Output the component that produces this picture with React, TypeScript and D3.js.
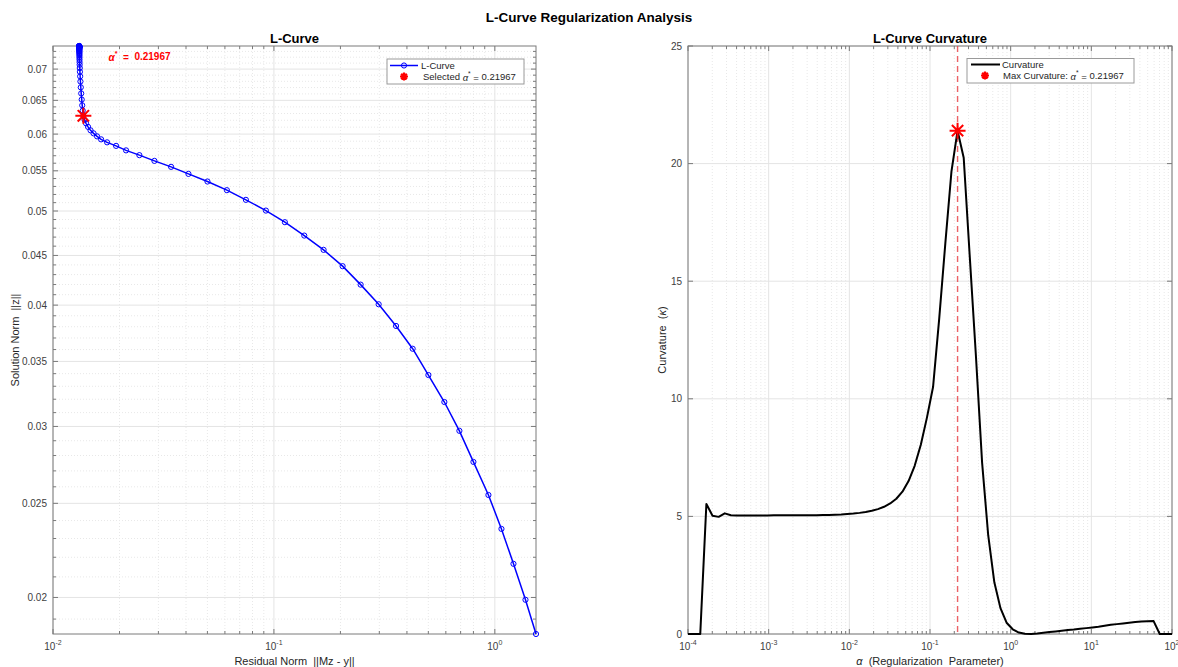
import React from 'react';
import * as d3 from 'd3';

// alpha grid (logspace(-4, 2, 80))
const ALPHA = [
  1.000e-4, 1.191e-4, 1.419e-4, 1.690e-4, 2.013e-4, 2.398e-4, 2.856e-4, 3.402e-4, 4.052e-4, 4.827e-4,
  5.750e-4, 6.849e-4, 8.158e-4, 9.713e-4, 1.157e-3, 1.378e-3, 1.641e-3, 1.955e-3, 2.329e-3, 2.774e-3,
  3.304e-3, 3.936e-3, 4.688e-3, 5.584e-3, 6.651e-3, 7.922e-3, 9.434e-3, 1.124e-2, 1.339e-2, 1.594e-2,
  1.899e-2, 2.262e-2, 2.694e-2, 3.209e-2, 3.822e-2, 4.553e-2, 5.423e-2, 6.459e-2, 7.694e-2, 9.163e-2,
  0.1091, 0.1300, 0.1548, 0.1844, 0.21967, 0.2617, 0.3117, 0.3713, 0.4422, 0.5267,
  0.6274, 0.7472, 0.8900, 1.060, 1.263, 1.504, 1.791, 2.134, 2.541, 3.027,
  3.606, 4.295, 5.115, 6.093, 7.257, 8.644, 10.30, 12.26, 14.61, 17.40,
  20.72, 24.69, 29.40, 35.02, 41.71, 49.68, 59.17, 70.48, 83.95, 100.0,
];

// ||Mz - y|| for each alpha
const RESIDUAL_NORM = [
  0.013146, 0.013146, 0.013147, 0.013147, 0.013148, 0.013148, 0.013149, 0.013149, 0.013150, 0.013150,
  0.013151, 0.013151, 0.013152, 0.013152, 0.013153, 0.013153, 0.013154, 0.013155, 0.013156, 0.013157,
  0.013158, 0.013159, 0.013160, 0.013161, 0.013162, 0.013163, 0.013164, 0.013166, 0.013168, 0.013170,
  0.013172, 0.013175, 0.01318, 0.01319, 0.01320, 0.01322, 0.01324, 0.01327, 0.01331, 0.01336,
  0.01342, 0.01349, 0.01356, 0.01363, 0.01372, 0.01389, 0.01411, 0.01441, 0.01479, 0.01526,
  0.01583, 0.01651, 0.01757, 0.01930, 0.02141, 0.02460, 0.02878, 0.03424, 0.04103, 0.05003,
  0.06124, 0.07467, 0.09198, 0.1121, 0.1372, 0.1678, 0.2046, 0.2469, 0.2979, 0.3571,
  0.4246, 0.5003, 0.5909, 0.6911, 0.7999, 0.9354, 1.0714, 1.2143, 1.3763, 1.5357,
];

// ||z|| for each alpha
const SOLUTION_NORM = [
  0.07394, 0.07393, 0.07392, 0.07391, 0.07390, 0.07389, 0.07388, 0.07387, 0.07386, 0.07385,
  0.07383, 0.07381, 0.07379, 0.07378, 0.07376, 0.07374, 0.07372, 0.07370, 0.07367, 0.07364,
  0.07360, 0.07355, 0.07348, 0.07339, 0.07329, 0.07317, 0.07303, 0.07289, 0.07272, 0.07250,
  0.07224, 0.07194, 0.07158, 0.07117, 0.07072, 0.07018, 0.06955, 0.06881, 0.06797, 0.06704,
  0.06608, 0.06512, 0.06424, 0.06344, 0.06266, 0.06207, 0.06155, 0.06104, 0.06054, 0.06011,
  0.05968, 0.05926, 0.05884, 0.05835, 0.05773, 0.05708, 0.05631, 0.05552, 0.05460, 0.05362,
  0.05253, 0.05134, 0.05005, 0.04869, 0.04717, 0.04560, 0.04387, 0.04199, 0.04008, 0.03807,
  0.03607, 0.03389, 0.03179, 0.02969, 0.02758, 0.02550, 0.02353, 0.02166, 0.01989, 0.01834,
];

// curvature kappa for each alpha
const CURVATURE = [
  0, 0, 0, 5.53, 5.03, 4.98, 5.13, 5.05, 5.04, 5.04,
  5.04, 5.04, 5.04, 5.04, 5.05, 5.05, 5.05, 5.05, 5.05, 5.05,
  5.05, 5.05, 5.06, 5.06, 5.07, 5.08, 5.10, 5.12, 5.15, 5.19,
  5.24, 5.31, 5.41, 5.55, 5.75, 6.05, 6.5, 7.15, 8.05, 9.2,
  10.5, 13.4, 16.6, 19.66, 21.4, 20.25, 16.0, 11.8, 7.3, 4.2,
  2.2, 1.1, 0.48, 0.2, 0.06, 0.01, 0.0, 0.02, 0.05, 0.08,
  0.11, 0.14, 0.17, 0.19, 0.22, 0.25, 0.28, 0.31, 0.35, 0.39,
  0.42, 0.45, 0.48, 0.51, 0.53, 0.54, 0.55, 0, 0, 0,
];

const SELECTED = 44;
const ALPHA_STAR_LABEL = '0.21967';

const LC_X_TICKS = [0.01, 0.1, 1];
const LC_Y_TICKS = [0.02, 0.025, 0.03, 0.035, 0.04, 0.045, 0.05, 0.055, 0.06, 0.065, 0.07];
const K_X_TICKS = [1e-4, 1e-3, 1e-2, 1e-1, 1, 10, 100];
const K_Y_TICKS = [0, 5, 10, 15, 20, 25];

const FONT = '"Liberation Sans", Arial, Helvetica, sans-serif';
const TEXT = '#262626';
const TICK_TEXT = '#404040';
const AXIS = '#7a7a7a';
const GRID = '#e4e4e4';
const GRID_MINOR = '#e8e8e8';

const LEFT = { x0: 53, x1: 536, y0: 46, y1: 634 };
const RIGHT = { x0: 688, x1: 1172, y0: 46, y1: 634 };

const logMinor = (majors: number[], lo: number, hi: number) =>
  majors.flatMap(m => d3.range(2, 10).map(k => m * k)).filter(v => v > lo && v < hi);

const starPath = (r: number) => {
  const d = r * 0.7071;
  return `M${-r},0H${r}M0,${-r}V${r}M${-d},${-d}L${d},${d}M${-d},${d}L${d},${-d}`;
};

const Pow10 = ({ x, y, v }: { x: number; y: number; v: number }) => (
  <text x={x} y={y} textAnchor="middle" fontSize={10} fill={TICK_TEXT}>
    10<tspan dy={-5} fontSize={7}>{Math.round(Math.log10(v))}</tspan>
  </text>
);

type FrameProps = {
  box: { x0: number; x1: number; y0: number; y1: number };
  x: (v: number) => number;
  y: (v: number) => number;
  xMajor: number[];
  xMinor: number[];
  yMajor: number[];
  yMinor: number[];
  yFmt: (v: number) => string;
};

const Frame = ({ box, x, y, xMajor, xMinor, yMajor, yMinor, yFmt }: FrameProps) => {
  const { x0, x1, y0, y1 } = box;
  return (
    <g>
      {/* grid */}
      {xMinor.map(v => (
        <line key={'gxm' + v} x1={x(v)} x2={x(v)} y1={y0} y2={y1} stroke={GRID_MINOR} strokeDasharray="1 2" />
      ))}
      {yMinor.map(v => (
        <line key={'gym' + v} x1={x0} x2={x1} y1={y(v)} y2={y(v)} stroke={GRID_MINOR} strokeDasharray="1 2" />
      ))}
      {xMajor.map(v => (
        <line key={'gx' + v} x1={x(v)} x2={x(v)} y1={y0} y2={y1} stroke={GRID} />
      ))}
      {yMajor.map(v => (
        <line key={'gy' + v} x1={x0} x2={x1} y1={y(v)} y2={y(v)} stroke={GRID} />
      ))}
      {/* ticks, mirrored on all four sides */}
      {xMinor.map(v => (
        <g key={'txm' + v} stroke={AXIS}>
          <line x1={x(v)} x2={x(v)} y1={y1} y2={y1 - 3} />
          <line x1={x(v)} x2={x(v)} y1={y0} y2={y0 + 3} />
        </g>
      ))}
      {xMajor.map(v => (
        <g key={'tx' + v} stroke={AXIS}>
          <line x1={x(v)} x2={x(v)} y1={y1} y2={y1 - 5} />
          <line x1={x(v)} x2={x(v)} y1={y0} y2={y0 + 5} />
        </g>
      ))}
      {yMinor.map(v => (
        <g key={'tym' + v} stroke={AXIS}>
          <line x1={x0} x2={x0 + 3} y1={y(v)} y2={y(v)} />
          <line x1={x1} x2={x1 - 3} y1={y(v)} y2={y(v)} />
        </g>
      ))}
      {yMajor.map(v => (
        <g key={'ty' + v} stroke={AXIS}>
          <line x1={x0} x2={x0 + 5} y1={y(v)} y2={y(v)} />
          <line x1={x1} x2={x1 - 5} y1={y(v)} y2={y(v)} />
        </g>
      ))}
      <rect x={x0} y={y0} width={x1 - x0} height={y1 - y0} fill="none" stroke={AXIS} />
      {/* tick labels */}
      {xMajor.map(v => (
        <Pow10 key={'lx' + v} x={x(v)} y={y1 + 16} v={v} />
      ))}
      {yMajor.map(v => (
        <text key={'ly' + v} x={x0 - 6} y={y(v)} dominantBaseline="central" textAnchor="end" fontSize={10} fill={TICK_TEXT}>
          {yFmt(v)}
        </text>
      ))}
    </g>
  );
};

const AlphaStar = ({ size = 9.5 }: { size?: number }) => (
  <>
    <tspan fontStyle="italic">α</tspan>
    <tspan dy={-4} fontSize={size * 0.7}>*</tspan>
    <tspan dy={4}>{'  =  '}</tspan>
  </>
);

const App = () => {
  const xL = d3.scaleLog().domain([0.01, d3.max(RESIDUAL_NORM) as number]).range([LEFT.x0, LEFT.x1]);
  const yL = d3
    .scaleLog()
    .domain([d3.min(SOLUTION_NORM) as number, d3.max(SOLUTION_NORM) as number])
    .range([LEFT.y1, LEFT.y0]);
  const xR = d3.scaleLog().domain([1e-4, 1e2]).range([RIGHT.x0, RIGHT.x1]);
  const yR = d3.scaleLinear().domain([0, 25]).range([RIGHT.y1, RIGHT.y0]);

  const lcPts: [number, number][] = RESIDUAL_NORM.map((r, i) => [r, SOLUTION_NORM[i]]);
  const kPts: [number, number][] = ALPHA.map((a, i) => [a, CURVATURE[i]]);

  const lcLine = d3.line<[number, number]>().x(d => xL(d[0])).y(d => yL(d[1]));
  const kLine = d3.line<[number, number]>().x(d => xR(d[0])).y(d => yR(d[1]));

  const [ldx, ldy] = yL.domain();
  const lcYMinor = d3
    .range(18, 75)
    .filter(k => k % 5 !== 0)
    .map(k => k / 1000)
    .filter(v => v > ldx && v < ldy);

  const selR = RESIDUAL_NORM[SELECTED];
  const selS = SOLUTION_NORM[SELECTED];
  const selA = ALPHA[SELECTED];
  const selK = CURVATURE[SELECTED];

  return (
    <svg
      width={1178}
      height={667}
      style={{ position: 'absolute', left: 0, top: 0, background: '#fff' }}
      fontFamily={FONT}
    >
      <rect width={1178} height={667} fill="#fff" />
      <text x={589} y={22} textAnchor="middle" fontSize={13.5} fontWeight="bold" fill="#000">
        L-Curve Regularization Analysis
      </text>

      {/* ---------- L-curve ---------- */}
      <Frame
        box={LEFT}
        x={xL}
        y={yL}
        xMajor={LC_X_TICKS}
        xMinor={logMinor(LC_X_TICKS, 0.01, xL.domain()[1])}
        yMajor={LC_Y_TICKS}
        yMinor={lcYMinor}
        yFmt={v => String(+v.toFixed(3))}
      />
      <text x={(LEFT.x0 + LEFT.x1) / 2} y={42.5} textAnchor="middle" fontSize={13} fontWeight="bold" fill="#000">
        L-Curve
      </text>
      <text x={(LEFT.x0 + LEFT.x1) / 2} y={665} textAnchor="middle" fontSize={11} fill={TEXT} style={{ whiteSpace: 'pre' }}>
        {'Residual Norm  ||Mz - y||'}
      </text>
      <text
        transform={`translate(15,${(LEFT.y0 + LEFT.y1) / 2}) rotate(-90)`}
        textAnchor="middle"
        dominantBaseline="central"
        fontSize={11}
        fill={TEXT}
        style={{ whiteSpace: 'pre' }}
      >
        {'Solution Norm  ||z||'}
      </text>

      <path d={lcLine(lcPts) as string} fill="none" stroke="#0000ff" strokeWidth={1.5} />
      {lcPts.map((p, i) => (
        <circle key={i} cx={xL(p[0])} cy={yL(p[1])} r={2.6} fill="none" stroke="#0000ff" strokeWidth={1} />
      ))}
      <path d={starPath(8)} transform={`translate(${xL(selR)},${yL(selS)})`} stroke="#ff0000" strokeWidth={2} fill="none" />
      <text
        x={xL(selR * 1.3)}
        y={yL(selS * 1.15)}
        dominantBaseline="central"
        fontSize={10}
        fontWeight="bold"
        fill="#ff0000"
        style={{ whiteSpace: 'pre' }}
      >
        <AlphaStar size={10} />
        {ALPHA_STAR_LABEL}
      </text>

      {/* legend */}
      <g fontSize={9.5} fill={TEXT} style={{ whiteSpace: 'pre' }}>
        <rect x={387} y={59} width={137} height={25} fill="#fff" stroke="#9a9a9a" />
        <line x1={390} x2={418} y1={65.5} y2={65.5} stroke="#0000ff" strokeWidth={1.5} />
        <circle cx={404} cy={65.5} r={2.6} fill="none" stroke="#0000ff" />
        <text x={421} y={65.5} dominantBaseline="central">L-Curve</text>
        <path d={starPath(4)} transform="translate(404,76.5)" stroke="#ff0000" strokeWidth={2.2} fill="none" />
        <text x={423} y={76.5} dominantBaseline="central">
          {'Selected  '}
          <AlphaStar />
          {ALPHA_STAR_LABEL}
        </text>
      </g>

      {/* ---------- Curvature ---------- */}
      <Frame
        box={RIGHT}
        x={xR}
        y={yR}
        xMajor={K_X_TICKS}
        xMinor={logMinor(K_X_TICKS, 1e-4, 1e2)}
        yMajor={K_Y_TICKS}
        yMinor={[]}
        yFmt={v => String(v)}
      />
      <text x={(RIGHT.x0 + RIGHT.x1) / 2} y={42.5} textAnchor="middle" fontSize={13} fontWeight="bold" fill="#000">
        L-Curve Curvature
      </text>
      <text x={(RIGHT.x0 + RIGHT.x1) / 2} y={665} textAnchor="middle" fontSize={11} fill={TEXT} style={{ whiteSpace: 'pre' }}>
        <tspan fontStyle="italic">α</tspan>
        {'  (Regularization  Parameter)'}
      </text>
      <text
        transform={`translate(662,${(RIGHT.y0 + RIGHT.y1) / 2}) rotate(-90)`}
        textAnchor="middle"
        dominantBaseline="central"
        fontSize={11}
        fill={TEXT}
        style={{ whiteSpace: 'pre' }}
      >
        {'Curvature  ('}
        <tspan fontStyle="italic">κ</tspan>
        {')'}
      </text>

      <line
        x1={xR(selA)}
        x2={xR(selA)}
        y1={RIGHT.y0}
        y2={RIGHT.y1}
        stroke="#e8474c"
        strokeOpacity={0.85}
        strokeWidth={1.4}
        strokeDasharray="6 4"
      />
      <path d={kLine(kPts) as string} fill="none" stroke="#000" strokeWidth={2} strokeLinejoin="round" />
      <path d={starPath(8)} transform={`translate(${xR(selA)},${yR(selK)})`} stroke="#ff0000" strokeWidth={2} fill="none" />

      <g fontSize={9.5} fill={TEXT} style={{ whiteSpace: 'pre' }}>
        <rect x={967} y={58.5} width={167} height={24.5} fill="#fff" stroke="#9a9a9a" />
        <line x1={971} x2={1000} y1={64.5} y2={64.5} stroke="#000" strokeWidth={2} />
        <text x={1002} y={64.5} dominantBaseline="central">Curvature</text>
        <path d={starPath(4)} transform="translate(985,75.5)" stroke="#ff0000" strokeWidth={2.2} fill="none" />
        <text x={1003} y={75.5} dominantBaseline="central">
          {'Max  Curvature:  '}
          <AlphaStar />
          {ALPHA_STAR_LABEL}
        </text>
      </g>
    </svg>
  );
};

export default App;
